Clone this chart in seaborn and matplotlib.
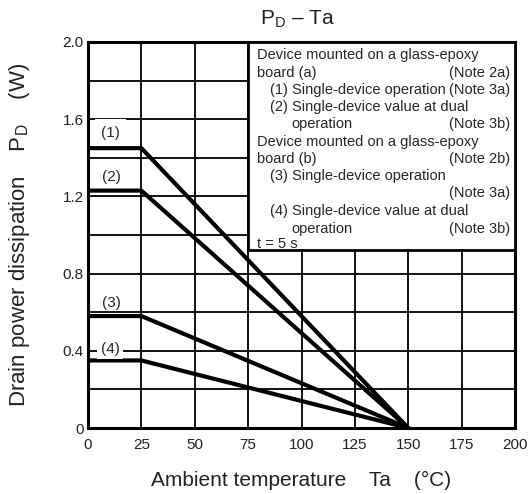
import matplotlib
matplotlib.use("Agg")
import matplotlib.pyplot as plt
import seaborn as sns
import pandas as pd
from matplotlib.patches import Rectangle

# Derating curves: power dissipation vs ambient temperature
temps = [0, 25, 150]
curve_labels = ["(1)", "(2)", "(3)", "(4)"]
pd_1 = [1.45, 1.45, 0.0]
pd_2 = [1.23, 1.23, 0.0]
pd_3 = [0.58, 0.58, 0.0]
pd_4 = [0.35, 0.35, 0.0]
x_ticks = [0, 25, 50, 75, 100, 125, 150, 175, 200]
y_ticks = [0, 0.2, 0.4, 0.6, 0.8, 1.0, 1.2, 1.4, 1.6, 1.8, 2.0]
y_ticklabels = ["0", "", "0.4", "", "0.8", "", "1.2", "", "1.6", "", "2.0"]

rows = []
for lab, vals in zip(curve_labels, [pd_1, pd_2, pd_3, pd_4]):
    for t, v in zip(temps, vals):
        rows.append({"Ta": t, "PD": v, "curve": lab})
df = pd.DataFrame(rows)

sns.set_style("white")
plt.rcParams["font.family"] = ["Liberation Sans", "DejaVu Sans"]
plt.rcParams["mathtext.fontset"] = "custom"
plt.rcParams["mathtext.rm"] = "Liberation Sans"

fig = plt.figure(figsize=(5.28, 4.94), dpi=100)
ax = fig.add_axes([88 / 528, 1 - 428 / 494, 427 / 528, 386 / 494])

ax.set_xlim(0, 200)
ax.set_ylim(0, 2.0)
ax.set_xticks(x_ticks)
ax.set_yticks(y_ticks)
ax.set_xticklabels([str(v) for v in x_ticks], fontsize=11)
ax.set_yticklabels(y_ticklabels, fontsize=11)
ax.tick_params(axis="x", length=0, pad=7, colors="#222222")
ax.tick_params(axis="y", length=0, pad=3, colors="#222222")
ax.grid(True, color="black", linewidth=1.3)
ax.set_axisbelow(True)
for s in ax.spines.values():
    s.set_linewidth(2.2)
    s.set_color("black")

sns.lineplot(data=df, x="Ta", y="PD", units="curve", estimator=None,
             color="black", linewidth=3.0, ax=ax, legend=False, zorder=5)

# Curve labels with white boxes over the grid
label_pos = [(10.5, 1.53), (10.8, 1.30), (10.8, 0.65), (10.3, 0.41)]
label_pad = [4.5, 2.0, 0.8, 2.5]
for lab, (lx, ly), pad in zip(curve_labels, label_pos, label_pad):
    ax.text(lx, ly, lab, fontsize=11, ha="center", va="center", zorder=6,
            bbox=dict(facecolor="white", edgecolor="none", pad=pad))

# Conditions box
ax.add_patch(Rectangle((75, 0.92), 125, 1.08, facecolor="white",
                       edgecolor="black", linewidth=2.0, zorder=7,
                       clip_on=False))

def px_to_data(px, py):
    return (px - 88) / 2.135, (428 - py) / 193.0

left_lines = [
    (257, 55, "Device mounted on a glass-epoxy"),
    (257, 73, "board (a)"),
    (270, 90, "(1) Single-device operation"),
    (270, 107, "(2) Single-device value at dual"),
    (291, 124, "operation"),
    (257, 142, "Device mounted on a glass-epoxy"),
    (257, 159, "board (b)"),
    (270, 176, "(3) Single-device operation"),
    (270, 211, "(4) Single-device value at dual"),
    (291, 229, "operation"),
    (257, 244, "t = 5 s"),
]
right_lines = [
    (73, "(Note 2a)"),
    (90, "(Note 3a)"),
    (124, "(Note 3b)"),
    (159, "(Note 2b)"),
    (193, "(Note 3a)"),
    (229, "(Note 3b)"),
]
for px, py, txt in left_lines:
    x, y = px_to_data(px, py)
    ax.text(x, y, txt, fontsize=10.5, ha="left", va="center", zorder=8)
for py, txt in right_lines:
    x, y = px_to_data(510, py)
    ax.text(x, y, txt, fontsize=10.5, ha="right", va="center", zorder=8)

ax.set_xlabel("Ambient temperature    Ta    (°C)", fontsize=15, labelpad=14,
              color="#222222")
ax.set_ylabel("Drain power dissipation    P$_\\mathregular{D}$    (W)",
              fontsize=16, labelpad=22, color="#222222")
ax.set_title("P$_\\mathregular{D}$ – Ta", fontsize=15, pad=13, color="#222222",
             x=0.49)

fig.savefig("out.png", dpi=100, facecolor="white")
